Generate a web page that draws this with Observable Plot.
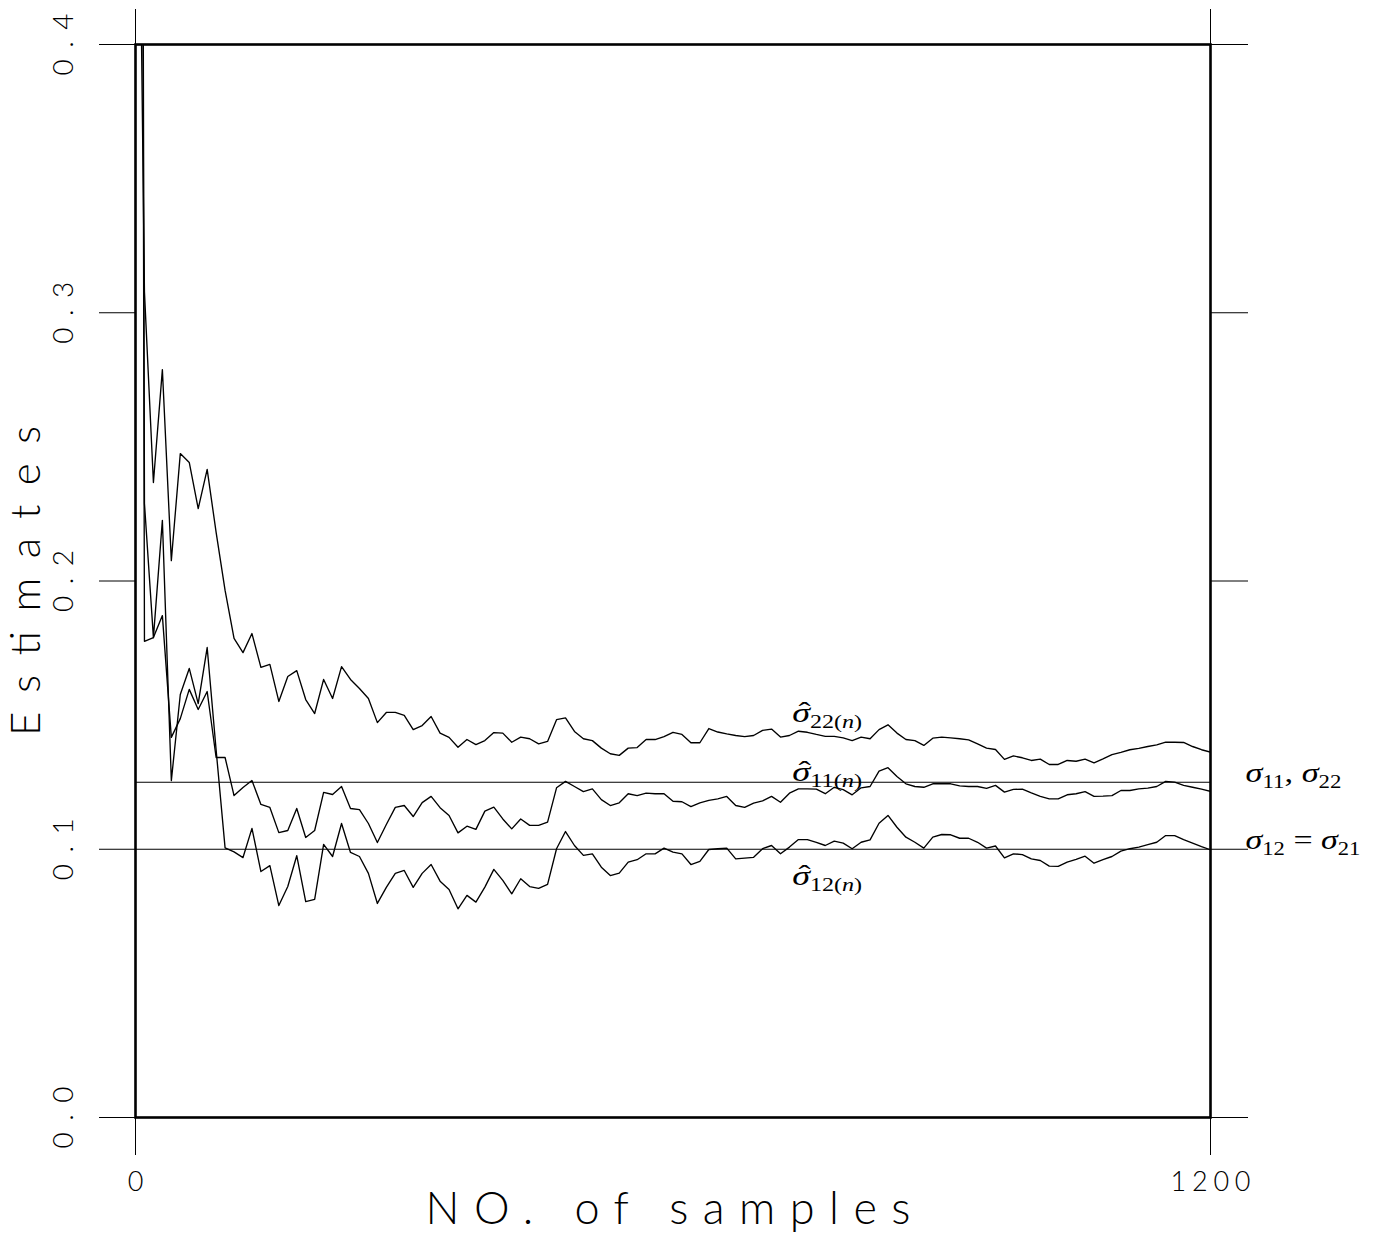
<!DOCTYPE html>
<html>
<head>
<meta charset="utf-8">
<script src="https://cdn.jsdelivr.net/npm/d3@7"></script>
<script src="https://cdn.jsdelivr.net/npm/@observablehq/plot@0.6"></script>
<style>
  html, body { margin: 0; padding: 0; background: #fff; }
  #chart svg { display: block; overflow: visible; }
</style>
</head>
<body>
<div id="chart"></div>
<script>
// ---------- data ----------
const samples = [5,
  10,20,30,40,50,60,70,80,90,100,110,120,130,140,150,160,170,180,190,200,
  210,220,230,240,250,260,270,280,290,300,310,320,330,340,350,360,370,380,390,400,
  410,420,430,440,450,460,470,480,490,500,510,520,530,540,550,560,570,580,590,600,
  610,620,630,640,650,660,670,680,690,700,710,720,730,740,750,760,770,780,790,800,
  810,820,830,840,850,860,870,880,890,900,910,920,930,940,950,960,970,980,990,1000,
  1010,1020,1030,1040,1050,1060,1070,1080,1090,1100,1110,1120,1130,1140,1150,1160,1170,1180,1190,1200];

const sigma22 = [0.45,
  0.3077,0.2367,0.2788,0.2076,0.2475,0.2442,0.2270,0.2416,0.2181,0.1965,
  0.1786,0.1733,0.1804,0.1678,0.1689,0.1551,0.1644,0.1666,0.1558,0.1506,
  0.1633,0.1562,0.1681,0.1633,0.1599,0.1562,0.1472,0.1510,0.1510,0.1499,
  0.1446,0.1461,0.1495,0.1433,0.1417,0.1380,0.1409,0.1390,0.1405,0.1435,
  0.1433,0.1399,0.1418,0.1412,0.1393,0.1402,0.1483,0.1490,0.1439,0.1412,
  0.1405,0.1377,0.1356,0.1350,0.1377,0.1379,0.1409,0.1409,0.1420,0.1436,
  0.1428,0.1397,0.1397,0.1450,0.1437,0.1430,0.1424,0.1420,0.1424,0.1443,
  0.1448,0.1418,0.1424,0.1440,0.1436,0.1428,0.1421,0.1421,0.1415,0.1405,
  0.1418,0.1412,0.1446,0.1464,0.1433,0.1409,0.1405,0.1387,0.1414,0.1418,
  0.1415,0.1412,0.1408,0.1393,0.1377,0.1372,0.1335,0.1348,0.1341,0.1331,
  0.1336,0.1316,0.1316,0.1331,0.1328,0.1336,0.1322,0.1337,0.1353,0.1361,
  0.1371,0.1376,0.1383,0.1389,0.1399,0.1399,0.1398,0.1383,0.1371,0.1362];

const sigma11 = [0.9,
  0.1775,0.1789,0.1871,0.1417,0.1487,0.1596,0.1521,0.1588,0.1342,0.1342,
  0.1200,0.1230,0.1256,0.1167,0.1156,0.1062,0.1070,0.1152,0.1044,0.1070,
  0.1212,0.1204,0.1234,0.1152,0.1148,0.1096,0.1025,0.1092,0.1156,0.1163,
  0.1122,0.1174,0.1197,0.1155,0.1126,0.1061,0.1086,0.1074,0.1142,0.1157,
  0.1113,0.1076,0.1113,0.1089,0.1089,0.1101,0.1229,0.1253,0.1234,0.1215,
  0.1225,0.1185,0.1163,0.1173,0.1207,0.1200,0.1209,0.1207,0.1207,0.1179,
  0.1177,0.1159,0.1173,0.1182,0.1188,0.1197,0.1163,0.1156,0.1172,0.1180,
  0.1197,0.1175,0.1209,0.1225,0.1225,0.1224,0.1207,0.1231,0.1222,0.1203,
  0.1229,0.1234,0.1291,0.1304,0.1271,0.1244,0.1234,0.1231,0.1244,0.1244,
  0.1244,0.1236,0.1234,0.1234,0.1227,0.1238,0.1213,0.1223,0.1224,0.1210,
  0.1197,0.1188,0.1188,0.1203,0.1207,0.1215,0.1197,0.1198,0.1200,0.1219,
  0.1219,0.1225,0.1228,0.1234,0.1253,0.1250,0.1238,0.1231,0.1224,0.1216];

const sigma12 = [0.9,
  0.2289,0.1789,0.2226,0.1256,0.1577,0.1674,0.1543,0.1752,0.1370,0.1005,
  0.0990,0.0969,0.1078,0.0917,0.0939,0.0790,0.0861,0.0976,0.0805,0.0813,
  0.1018,0.0973,0.1096,0.0988,0.0973,0.0910,0.0798,0.0858,0.0910,0.0921,
  0.0858,0.0910,0.0943,0.0881,0.0850,0.0778,0.0828,0.0803,0.0859,0.0925,
  0.0884,0.0834,0.0890,0.0861,0.0854,0.0869,0.1002,0.1066,0.1014,0.0977,
  0.0983,0.0933,0.0902,0.0911,0.0952,0.0961,0.0983,0.0983,0.1004,0.0989,
  0.0983,0.0943,0.0955,0.0999,0.1002,0.1004,0.0964,0.0967,0.0970,0.1002,
  0.1014,0.0983,0.1008,0.1036,0.1036,0.1026,0.1014,0.1030,0.1023,0.1002,
  0.1026,0.1035,0.1097,0.1126,0.1082,0.1045,0.1026,0.1004,0.1045,0.1055,
  0.1054,0.1041,0.1041,0.1026,0.1004,0.1012,0.0968,0.0983,0.0980,0.0964,
  0.0958,0.0937,0.0936,0.0952,0.0962,0.0974,0.0948,0.0961,0.0973,0.0993,
  0.1002,0.1008,0.1017,0.1026,0.1051,0.1051,0.1036,0.1023,0.1010,0.0998];

const seriesNames = ["sigma22", "sigma11", "sigma12"];
const refLevels = [0.125, 0.1];
const refLabels = ["σ_{11}, σ_{22}", "σ_{12} = σ_{21}"];

const curveLabels = ["σ̂_{22(n)}", "σ̂_{11(n)}", "σ̂_{12(n)}"];
const curveLabelX = [733, 733, 733];
const curveLabelY = [0.1473, 0.1256, 0.0865];

const yTicks = [0, 0.1, 0.2, 0.3, 0.4];
const yTickLabels = ["0.0", "0.1", "0.2", "0.3", "0.4"];
const xTicks = [0, 1200];
const xTickLabels = ["0", "1200"];
const xTitle = "NO. of samples";
const yTitle = "Estimates";

// ---------- build table ----------
const seriesValues = [sigma22, sigma11, sigma12];
const rows = [];
seriesNames.forEach((name, j) => {
  samples.forEach((x, i) => rows.push({series: name, x, y: seriesValues[j][i]}));
});
const curveLabelRows = curveLabels.map((t, i) => ({t, x: curveLabelX[i], y: curveLabelY[i]}));
const refLabelRows = refLabels.map((t, i) => ({t, y: refLevels[i]}));

const SANS = "Lato, Inter, 'Liberation Sans', sans-serif";
const SERIF = "'Liberation Serif', 'DejaVu Serif', serif";

const plot = Plot.plot({
  width: 1382,
  height: 1251,
  marginLeft: 135,
  marginRight: 172,
  marginTop: 44,
  marginBottom: 134,
  x: {domain: [0, 1200]},
  y: {domain: [0, 0.4]},
  style: {background: "#fff", color: "#000", fontFamily: SANS},
  marks: [
    Plot.ruleY(refLevels, {stroke: "#000", strokeWidth: 1.1}),
    Plot.line(rows, {x: "x", y: "y", z: "series", stroke: "#000", strokeWidth: 1.35, clip: true}),
    Plot.frame({stroke: "#000", strokeWidth: 2.6}),
    Plot.axisY({anchor: "left", ticks: yTicks, tickSize: 36, tickFormat: () => "", label: null, stroke: "#000", strokeWidth: 1}),
    Plot.axisY({anchor: "right", ticks: yTicks, tickSize: 37, tickFormat: () => "", label: null, stroke: "#000", strokeWidth: 1}),
    Plot.axisX({anchor: "bottom", ticks: xTicks, tickSize: 38, tickFormat: () => "", label: null, stroke: "#000", strokeWidth: 1}),
    Plot.axisX({anchor: "top", ticks: xTicks, tickSize: 36, tickFormat: () => "", label: null, stroke: "#000", strokeWidth: 1}),
    // tick labels
    Plot.text(yTicks, {y: d => d, text: (d, i) => yTickLabels[i], frameAnchor: "left", dx: -71, rotate: -90,
      fontSize: 28, fontWeight: 300, fontFamily: SANS, fill: "#000"}),
    Plot.text(xTicks, {x: d => d, text: (d, i) => xTickLabels[i], frameAnchor: "bottom", dy: 73,
      fontSize: 27, fontWeight: 300, fontFamily: SANS, fill: "#000"}),
    // axis titles
    Plot.text([yTitle], {text: d => d, frameAnchor: "left", dx: -109, rotate: -90,
      fontSize: 42, fontWeight: 300, fontFamily: SANS, fill: "#000"}),
    Plot.text([xTitle], {text: d => d, frameAnchor: "bottom", dy: 106, dx: -5,
      fontSize: 45, fontWeight: 300, fontFamily: SANS, fill: "#000"}),
    // math labels
    Plot.text(curveLabelRows, {x: "x", y: "y", text: "t", textAnchor: "start", lineAnchor: "bottom",
      fontSize: 27, fontFamily: SERIF, fill: "#000"}),
    Plot.text(refLabelRows, {x: () => 1200, y: "y", text: "t", textAnchor: "start", lineAnchor: "bottom", dx: 35, dy: 0,
      fontSize: 27, fontFamily: SERIF, fill: "#000"})
  ]
});

document.getElementById("chart").appendChild(plot);

// ---------- typeset the math-like labels with sub-scripts and hats ----------
const SUB_SIZE = 18, SUB_SHIFT = 6;
function typeset(el) {
  const src = el.textContent;
  const sel = d3.select(el);
  sel.text(null);
  const parts = src.split(/(_\{[^}]*\})/);
  let shifted = false;
  let pendingDx = 0;
  for (const p of parts) {
    if (!p) continue;
    if (p.startsWith("_{")) {
      const inner = p.slice(2, -1);
      let first = true;
      for (const seg of inner.split(/(n)/)) {
        if (!seg) continue;
        const t = sel.append("tspan").attr("font-size", SUB_SIZE)
          .attr("font-style", seg === "n" ? "italic" : "normal").text(seg);
        if (first) {
          if (!shifted) t.attr("dy", SUB_SHIFT);
          if (pendingDx) { t.attr("dx", pendingDx); pendingDx = 0; }
        }
        first = false;
      }
      shifted = true;
    } else {
      let first = true;
      for (const seg of p.split(/(σ\u0302|σ)/)) {
        if (!seg) continue;
        if (seg === "σ\u0302") {
          // sigma with a hat drawn over it
          const s = sel.append("tspan").attr("font-style", "italic").text("σ");
          if (first && shifted) s.attr("dy", -SUB_SHIFT);
          const ws = s.node().getComputedTextLength();
          const h = sel.append("tspan").attr("font-style", "normal").text("ˆ");
          const wh = h.node().getComputedTextLength();
          h.attr("dx", -ws / 2 - wh / 2 + 2.5).attr("dy", -1);
          pendingDx = ws / 2 - wh / 2 - 2.5;
          // undo the hat's small lift in the next piece
          SUB_LIFT_FIX = 1;
        } else {
          const t = sel.append("tspan")
            .attr("font-style", seg.startsWith("σ") ? "italic" : "normal").text(seg);
          if (first && shifted) t.attr("dy", -SUB_SHIFT);
        }
        first = false;
      }
      shifted = false;
    }
  }
}
let SUB_LIFT_FIX = 0;

// stretch a text horizontally (along its baseline) to a target width, keeping its anchor
function stretchTo(el, target) {
  const w = el.getBBox().width;
  if (!w) return;
  const tr = el.getAttribute("transform") || "";
  el.setAttribute("transform", tr + ` scale(${target / w},1)`);
}
// widen letter spacing to a target length, centred on the anchor
function spaceTo(el, target) {
  el.setAttribute("text-anchor", "start");
  el.setAttribute("textLength", target);
  el.setAttribute("lengthAdjust", "spacing");
  el.setAttribute("dx", -target / 2);
}

const allTexts = Array.from(plot.querySelectorAll("text"));
for (const el of allTexts) {
  const s = el.textContent;
  if (curveLabels.includes(s)) {
    typeset(el);
    // the subscript after a hat also compensates the hat's 1px lift
    const spans = el.querySelectorAll("tspan");
    if (spans.length > 2) {
      const third = spans[2];
      const dy = parseFloat(third.getAttribute("dy") || "0");
      third.setAttribute("dy", dy + 1);
    }
    stretchTo(el, 70);
  } else if (refLabels.includes(s)) {
    const i = refLabels.indexOf(s);
    typeset(el);
    stretchTo(el, i === 0 ? 96 : 115);
  } else if (yTickLabels.includes(s)) {
    spaceTo(el, 62);
  } else if (s === "1200") {
    spaceTo(el, 80);
  } else if (s === yTitle) {
    spaceTo(el, 310);
  } else if (s === xTitle) {
    spaceTo(el, 485);
  }
}
</script>
</body>
</html>
